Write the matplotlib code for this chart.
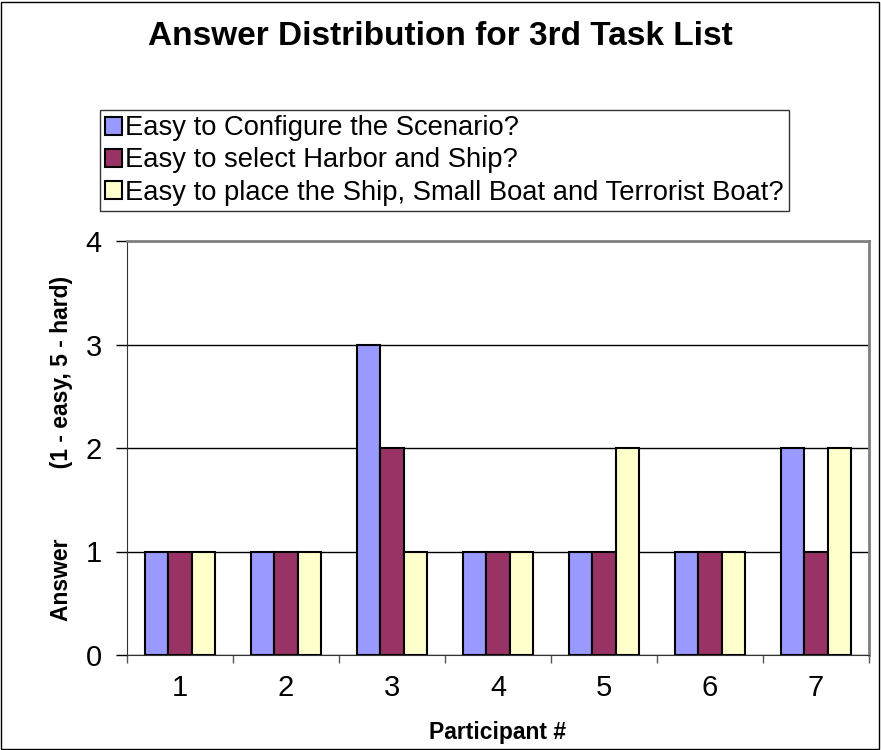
import matplotlib.pyplot as plt
from matplotlib.patches import Rectangle
import numpy as np

plt.rcParams['font.family'] = ['Liberation Sans', 'DejaVu Sans']

participants = ['1', '2', '3', '4', '5', '6', '7']
configure = [1, 1, 3, 1, 1, 1, 2]
harbor = [1, 1, 2, 1, 1, 1, 1]
place = [1, 1, 1, 1, 2, 1, 2]

series = [
    ("Easy to Configure the Scenario?", configure, '#9999FF'),
    ("Easy to select Harbor and Ship?", harbor, '#993366'),
    ("Easy to place the Ship, Small Boat and Terrorist Boat?", place, '#FFFFCC'),
]

fig = plt.figure(figsize=(8.81, 7.5), dpi=100)
ax = fig.add_axes([127 / 881, 1 - 655 / 750, (869 - 127) / 881, (655 - 241) / 750])

x = np.arange(1, len(participants) + 1)
w = 0.222
for i, (name, vals, col) in enumerate(series):
    ax.bar(x + (i - 1) * w, vals, width=w, color=col, edgecolor='black',
           linewidth=1.5, label=name, zorder=3)

ax.set_xlim(0.5, 7.5)
ax.set_ylim(0, 4)
ax.set_yticks([0, 1, 2, 3, 4])
ax.set_xticks(x)
ax.set_xticklabels(participants)
ax.set_xticks(np.arange(0.5, 8, 1), minor=True)
ax.tick_params(axis='x', which='major', length=0, labelsize=21, pad=14)
ax.tick_params(axis='x', which='minor', length=6, width=1, color='#555555')
ax.tick_params(axis='y', length=8, width=1, labelsize=21, pad=10)
ax.grid(axis='y', color='black', linewidth=1, zorder=0)

for s in ['top', 'right']:
    ax.spines[s].set_color('#808080')
    ax.spines[s].set_linewidth(2)
ax.spines['left'].set_color('#333333')
ax.spines['bottom'].set_color('#333333')

ax.set_xlabel("Participant #", fontsize=16.5, fontweight='bold', labelpad=13)
ax.set_ylabel("Answer" + " " * 11 + "(1 - easy, 5 - hard)", fontsize=16.5,
              fontweight='bold', labelpad=9)

fig.suptitle("Answer Distribution for 3rd Task List", fontsize=24,
             fontweight='bold', y=1 - 21 / 750, va='top')

fig.legend(loc='upper left', bbox_to_anchor=(100 / 881, 1 - 110 / 750),
           fontsize=19.7, frameon=True, fancybox=False, edgecolor='black',
           handlelength=0.6, handleheight=0.6, handletextpad=0.12,
           labelspacing=0.22, borderpad=0.2, borderaxespad=0)

fig.patches.append(Rectangle((0.001, 0.001), 0.997, 0.997, transform=fig.transFigure,
                             fill=False, edgecolor='black', linewidth=1))

fig.savefig('out.png', dpi=100)
